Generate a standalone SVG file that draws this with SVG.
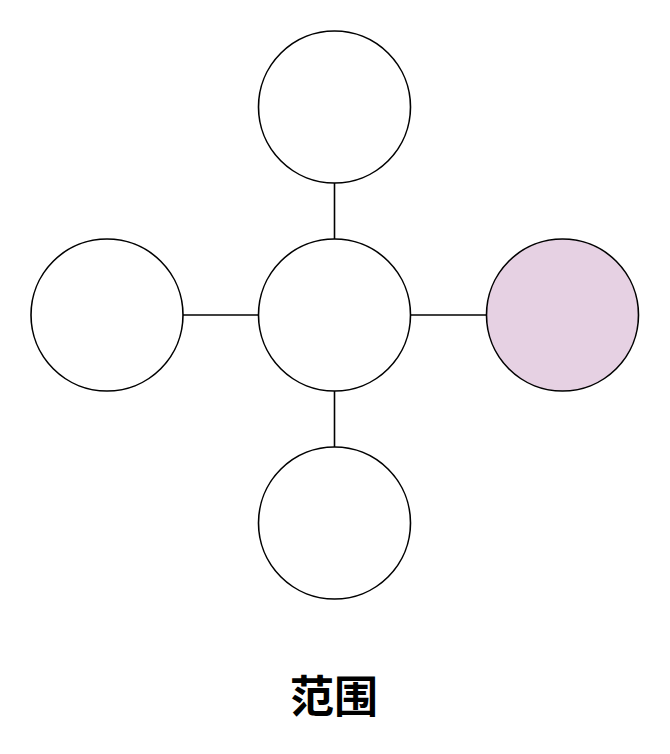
<svg xmlns="http://www.w3.org/2000/svg" width="670" height="754" viewBox="0 0 670 754">
<style>
.node{fill:#fff;stroke:#000;stroke-width:1.6}
.hl{fill:#e6d1e3}
.edge{stroke:#000;stroke-width:1.6;fill:none}
.title{font-family:"Noto Sans CJK SC","Noto Sans CJK JP",sans-serif;font-weight:bold;font-size:44px;text-anchor:middle}
</style>
<rect width="670" height="754" fill="#fff"/>
<g id="connectors">
<line class="edge" x1="334.5" y1="183" x2="334.5" y2="239"/>
<line class="edge" x1="334.5" y1="391" x2="334.5" y2="447"/>
<line class="edge" x1="183" y1="315" x2="258.5" y2="315"/>
<line class="edge" x1="410.5" y1="315" x2="486.5" y2="315"/>
</g>
<g id="top"><circle class="node" cx="334.5" cy="107" r="76"/></g>
<g id="center"><circle class="node" cx="334.5" cy="315" r="76"/></g>
<g id="left"><circle class="node" cx="107" cy="315" r="76"/></g>
<g id="right"><circle class="node hl" cx="562.5" cy="315" r="76"/></g>
<g id="bottom"><circle class="node" cx="334.5" cy="523" r="76"/></g>
<text class="title" x="334" y="713">范围</text>
</svg>
